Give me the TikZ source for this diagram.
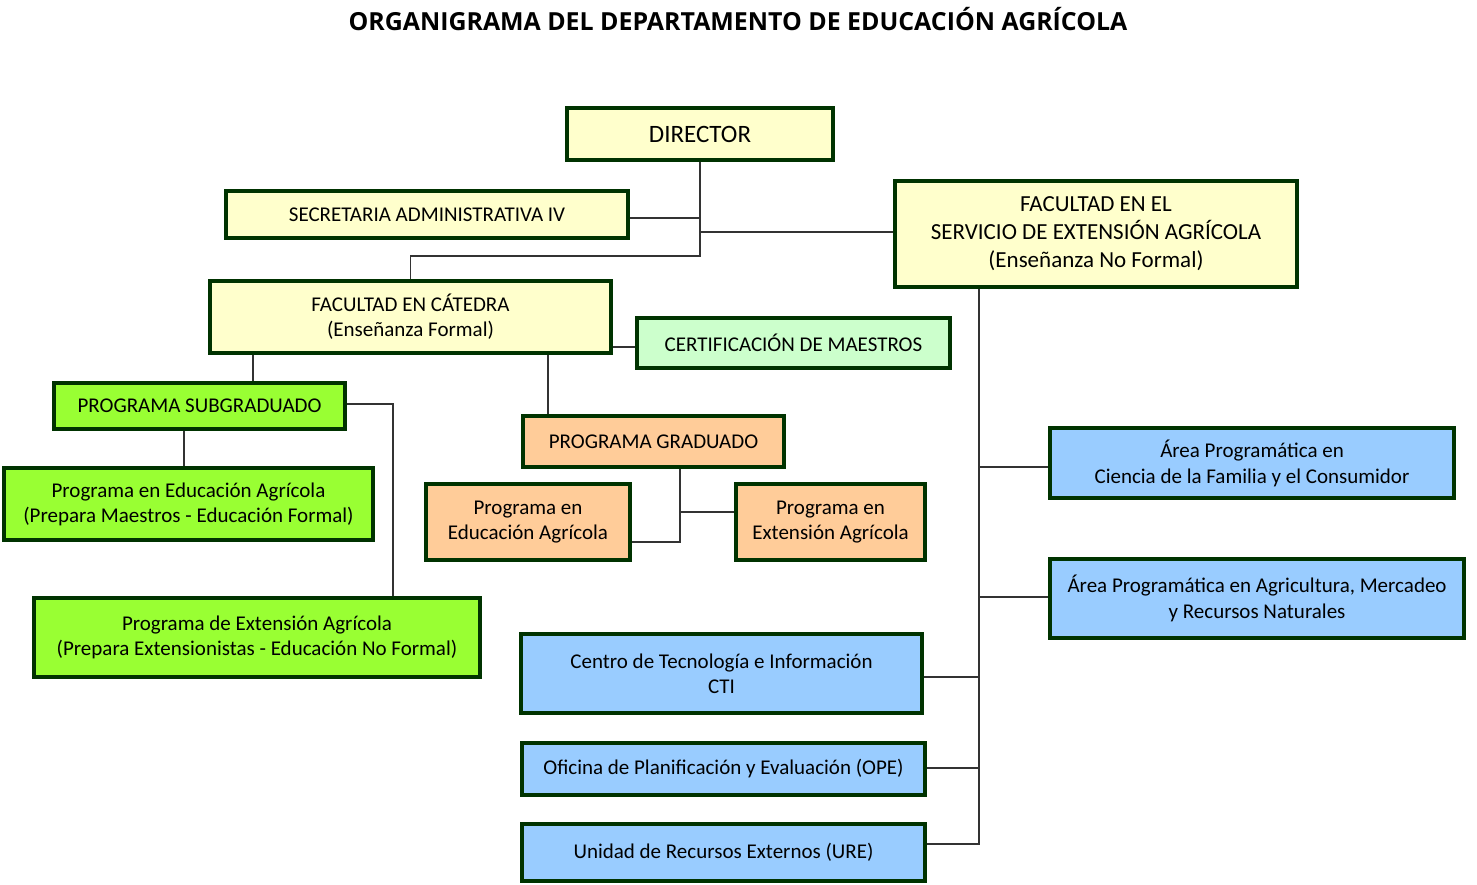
\documentclass[tikz,border=0pt]{standalone}
\usepackage{fontspec}
\setmainfont{Carlito}
\newfontfamily\titlefont{Open Sans}
\definecolor{bordc}{HTML}{003300}
\definecolor{yel}{HTML}{FFFFCC}
\definecolor{lgreen}{HTML}{CCFFCC}
\definecolor{bgreen}{HTML}{99FF33}
\definecolor{peach}{HTML}{FFCC99}
\definecolor{lblue}{HTML}{99CCFF}
\definecolor{connc}{HTML}{333333}
\tikzset{
  box/.style={draw=bordc, line width=4pt, inner sep=0pt, align=center,
    font=\fontsize{21}{25}\selectfont},
  conn/.style={draw=connc, line width=1.6pt},
}
\begin{document}
\begin{tikzpicture}[x=1pt,y=-1pt]
\useasboundingbox (0,0) rectangle (1477,885);
\node[anchor=base, font=\titlefont\bfseries\fontsize{24.9}{30}\selectfont] (title) at (738,31) {ORGANIGRAMA DEL DEPARTAMENTO DE EDUCACIÓN AGRÍCOLA};

\node[box, fill=yel, minimum width=266pt, minimum height=52pt, font=\fontsize{25}{30}\selectfont] (dir) at (700,134) {DIRECTOR};
\node[box, fill=yel, minimum width=402pt, minimum height=47pt] (sec) at (427,214.5) {SECRETARIA ADMINISTRATIVA IV};
\node[box, fill=yel, minimum width=402pt, minimum height=106pt, font=\fontsize{23}{28}\selectfont] (serv) at (1096,234) {FACULTAD EN EL\\SERVICIO DE EXTENSIÓN AGRÍCOLA\\(Enseñanza No Formal)};
\node[box, fill=yel, minimum width=401pt, minimum height=72pt] (cat) at (410.5,317) {FACULTAD EN CÁTEDRA\\(Enseñanza Formal)};
\node[box, fill=lgreen, minimum width=313pt, minimum height=50pt] (cert) at (793.5,343) {CERTIFICACIÓN DE MAESTROS};
\node[box, fill=bgreen, minimum width=291pt, minimum height=46pt] (sub) at (199.5,406) {PROGRAMA SUBGRADUADO};
\node[box, fill=bgreen, minimum width=369pt, minimum height=72pt] (gedu) at (188.5,504) {Programa en Educación Agrícola\\(Prepara Maestros - Educación Formal)};
\node[box, fill=bgreen, minimum width=446pt, minimum height=79pt] (gext) at (257,637.5) {Programa de Extensión Agrícola\\(Prepara Extensionistas - Educación No Formal)};
\node[box, fill=peach, minimum width=261pt, minimum height=51pt] (grad) at (653.5,441.5) {PROGRAMA GRADUADO};
\node[box, fill=peach, minimum width=204pt, minimum height=76pt] (oedu) at (528,522) {Programa en\\Educación Agrícola};
\node[box, fill=peach, minimum width=189pt, minimum height=76pt] (oext) at (830.5,522) {Programa en\\Extensión Agrícola};
\node[box, fill=lblue, minimum width=404pt, minimum height=70pt, font=\fontsize{21}{26}\selectfont] (acf) at (1252,463) {Área Programática en\\Ciencia de la Familia y el Consumidor};
\node[box, fill=lblue, minimum width=414pt, minimum height=79pt, font=\fontsize{21}{26}\selectfont] (aam) at (1257,598.5) {Área Programática en Agricultura, Mercadeo\\y Recursos Naturales};
\node[box, fill=lblue, minimum width=401pt, minimum height=79pt] (cti) at (721.5,673.5) {Centro de Tecnología e Información\\CTI};
\node[box, fill=lblue, minimum width=403pt, minimum height=52pt] (ope) at (723.5,769) {Oficina de Planificación y Evaluación (OPE)};
\node[box, fill=lblue, minimum width=403pt, minimum height=57pt] (ure) at (723.5,852.5) {Unidad de Recursos Externos (URE)};

% Director connectors
\coordinate (dj) at (700,256);
\draw[conn] (dir.south) -- (dj) -| (cat.north);
\draw[conn] (sec.east |- 0,218) -- (dir.south |- 0,218);
\draw[conn] (dir.south |- 0,232) -- (serv.west |- 0,232);
% Catedra connectors
\draw[conn] (cat.east |- 0,347) -- (cert.west |- 0,347);
\draw[conn] (cat.south -| 253,0) -- (sub.north -| 253,0);
\draw[conn] (cat.south -| 548,0) -- (grad.north -| 548,0);
% Subgraduado
\draw[conn] (sub.south -| 184,0) -- (gedu.north -| 184,0);
\draw[conn] (sub.east |- 0,404) -| (gext.north -| 393,0);
% Graduado
\coordinate (gj) at (680,542);
\draw[conn] (grad.south -| gj) -- (gj) -- (oedu.east |- gj);
\draw[conn] (gj |- 0,512) -- (oext.west |- 0,512);
% Servicio spine
\coordinate (sj) at (979,844);
\draw[conn] (serv.south -| sj) -- (sj) -- (ure.east |- sj);
\draw[conn] (sj |- 0,467) -- (acf.west |- 0,467);
\draw[conn] (sj |- 0,597) -- (aam.west |- 0,597);
\draw[conn] (sj |- 0,677) -- (cti.east |- 0,677);
\draw[conn] (sj |- 0,768) -- (ope.east |- 0,768);
\end{tikzpicture}
\end{document}
